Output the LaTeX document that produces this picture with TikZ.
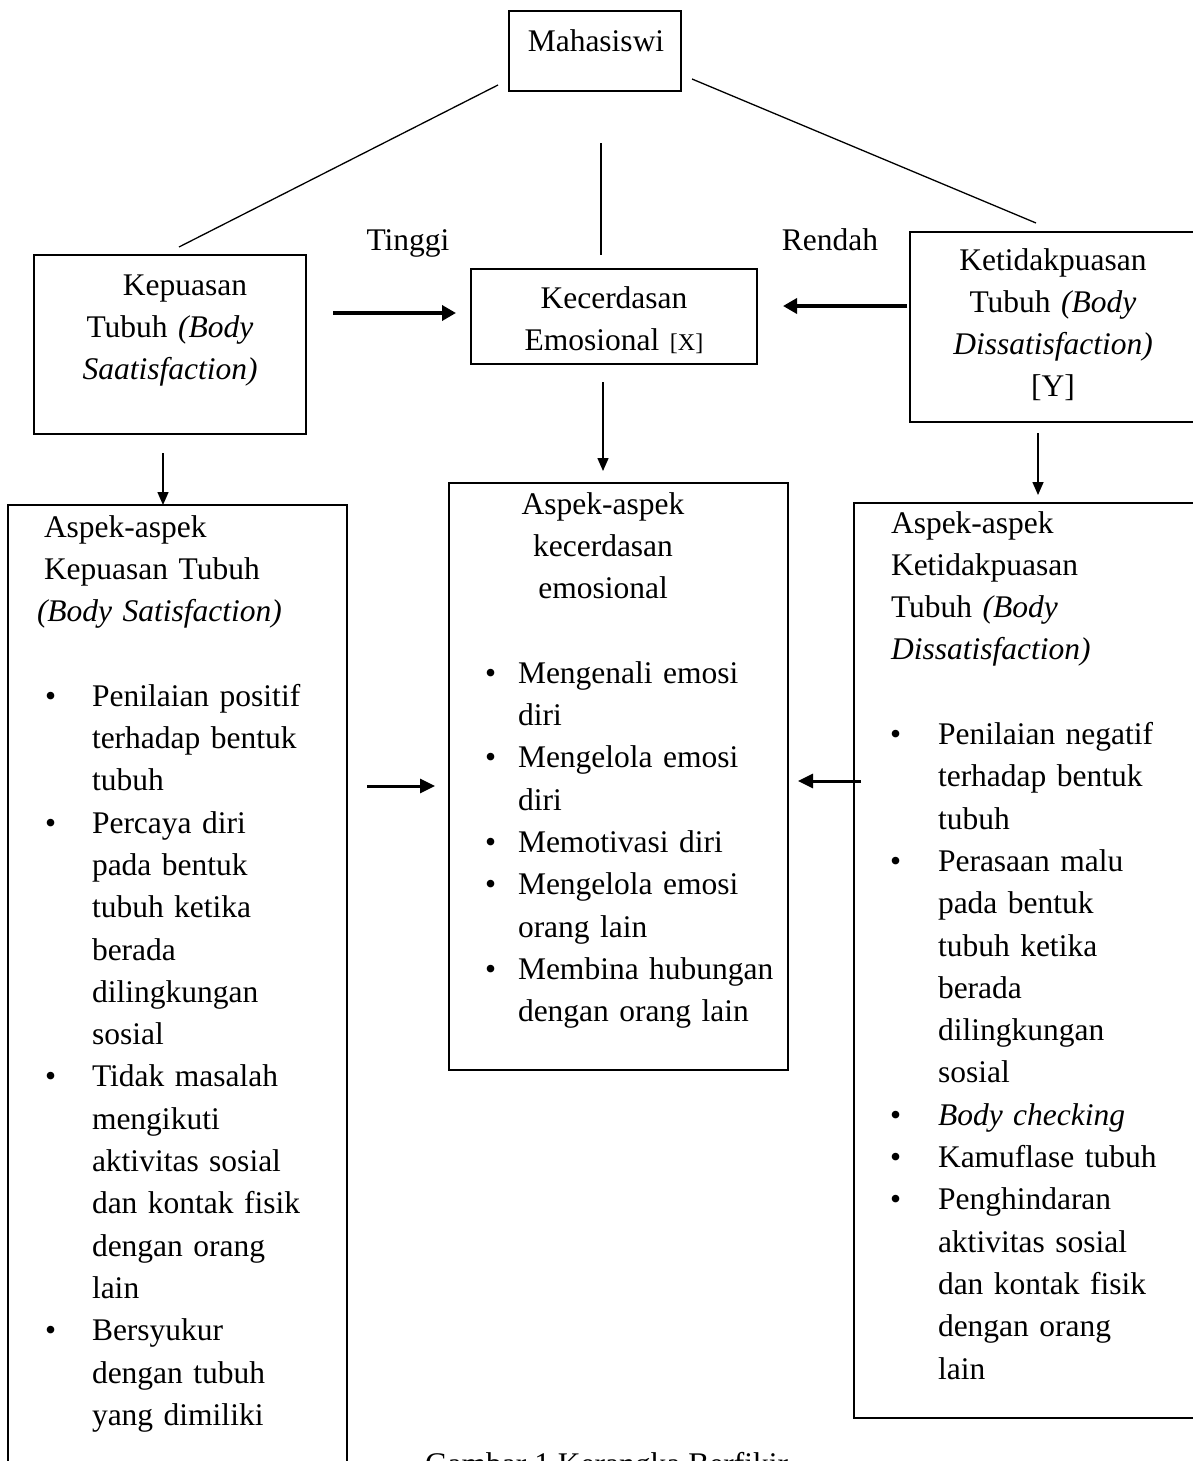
\documentclass[tikz,border=0pt]{standalone}
\usepackage{fontspec}
\setmainfont{Liberation Serif}
\usetikzlibrary{arrows.meta}
\begin{document}
\begin{tikzpicture}[x=1pt,y=-1pt,
  frame/.style={draw, line width=1.6pt, inner sep=0pt, outer sep=0pt},
  txt/.style={inner sep=0pt, outer sep=0pt, font=\fontsize{31.5}{42.3}\selectfont},
  blockL/.style={txt, text width=300pt, align=left, anchor=base west},
  blockC/.style={txt, text width=330pt, align=center, anchor=base},
  bul/.style={txt, anchor=base west},
  thinline/.style={line width=1.3pt},
  thinarrow/.style={line width=1.5pt, -{Triangle[length=13pt,width=11pt]}},
  thickarrow/.style={line width=4pt, -{Triangle[length=14pt,width=15pt]}},
  sidearrow/.style={line width=3pt, -{Triangle[length=15pt,width=14pt]}},
]
\useasboundingbox (0,0) rectangle (1192,1461);

% boxes
\node[frame, line width=1.3pt, minimum width=172pt, minimum height=80pt] (mhs) at (595,51) {};
\node[frame, minimum width=272pt, minimum height=179pt] (kep) at (170,344.5) {};
\node[frame, minimum width=286pt, minimum height=95pt] (kec) at (614,316.5) {};
\node[frame, minimum width=295pt, minimum height=190pt] (ket) at (1057.5,327) {};
\node[frame, minimum width=339pt, minimum height=985pt] (aL) at (177.5,997.5) {};
\node[frame, minimum width=339pt, minimum height=587pt] (aM) at (618.5,776.5) {};
\node[frame, minimum width=351pt, minimum height=915pt] (aR) at (1029.5,960.5) {};

% top texts
\node[txt, anchor=base] (tmhs) at (596,52) {Mahasiswi};
\node[blockC] (tkep) at (170,295) {\hspace*{30pt}Kepuasan\\Tubuh \textit{(Body}\\\textit{Saatisfaction)}};
\node[blockC] (tkec) at (614,308) {Kecerdasan\\Emosional {\fontsize{24}{42.3}\selectfont[X]}};
\node[blockC] (tket) at (1053,270) {Ketidakpuasan\\Tubuh \textit{(Body}\\\textit{Dissatisfaction)}\\{[Y]}};
\node[txt, anchor=base] (ting) at (408,250) {Tinggi};
\node[txt, anchor=base] (rend) at (830,250) {Rendah};

% left aspects
\node[blockL] (hL) at (44,537) {Aspek-aspek\\Kepuasan Tubuh};
\node[blockL] (hL2) at (37,621.6) {\textit{(Body Satisfaction)}};
\node[bul] (bL1) at (45,706.2) {•};
\node[blockL] (iL1) at (92,706.2) {Penilaian positif\\terhadap bentuk\\tubuh};
\node[bul] (bL2) at (45,833.1) {•};
\node[blockL] (iL2) at (92,833.1) {Percaya diri\\pada bentuk\\tubuh ketika\\berada\\dilingkungan\\sosial};
\node[bul] (bL3) at (45,1086.9) {•};
\node[blockL] (iL3) at (92,1086.9) {Tidak masalah\\mengikuti\\aktivitas sosial\\dan kontak fisik\\dengan orang\\lain};
\node[bul] (bL4) at (45,1340.7) {•};
\node[blockL] (iL4) at (92,1340.7) {Bersyukur\\dengan tubuh\\yang dimiliki};

% middle aspects
\node[blockC] (hM) at (603,514) {Aspek-aspek\\kecerdasan\\emosional};
\node[bul] (bM1) at (485,683.2) {•};
\node[blockL] (iM1) at (518,683.2) {Mengenali emosi\\diri};
\node[bul] (bM2) at (485,767.8) {•};
\node[blockL] (iM2) at (518,767.8) {Mengelola emosi\\diri};
\node[bul] (bM3) at (485,852.4) {•};
\node[blockL] (iM3) at (518,852.4) {Memotivasi diri};
\node[bul] (bM4) at (485,894.7) {•};
\node[blockL] (iM4) at (518,894.7) {Mengelola emosi\\orang lain};
\node[bul] (bM5) at (485,979.3) {•};
\node[blockL] (iM5) at (518,979.3) {Membina hubungan\\dengan orang lain};

% right aspects
\node[blockL] (hR) at (891,533) {Aspek-aspek\\Ketidakpuasan\\Tubuh \textit{(Body}\\\textit{Dissatisfaction)}};
\node[bul] (bR1) at (890,744.5) {•};
\node[blockL] (iR1) at (938,744.5) {Penilaian negatif\\terhadap bentuk\\tubuh};
\node[bul] (bR2) at (890,871.4) {•};
\node[blockL] (iR2) at (938,871.4) {Perasaan malu\\pada bentuk\\tubuh ketika\\berada\\dilingkungan\\sosial};
\node[bul] (bR3) at (890,1125.2) {•};
\node[blockL] (iR3) at (938,1125.2) {\textit{Body checking}};
\node[bul] (bR4) at (890,1167.5) {•};
\node[blockL] (iR4) at (938,1167.5) {Kamuflase tubuh};
\node[bul] (bR5) at (890,1209.8) {•};
\node[blockL] (iR5) at (938,1209.8) {Penghindaran\\aktivitas sosial\\dan kontak fisik\\dengan orang\\lain};

% caption (cut by the page edge, as in the reference)
\node[txt, anchor=base west] (cap) at (425,1474) {Gambar 1 Kerangka Berfikir};

% connector end points
\coordinate (l1a) at (498,85);   \coordinate (l1b) at (179,247);
\coordinate (l2a) at (601,143);  \coordinate (l2b) at (601,255);
\coordinate (l3a) at (692,79);   \coordinate (l3b) at (1036,223);
\coordinate (t1a) at (333,313);  \coordinate (t1b) at (456,313);
\coordinate (t2a) at (907,306);  \coordinate (t2b) at (783,306);
\coordinate (d1a) at (163,453);  \coordinate (d1b) at (163,505);
\coordinate (d2a) at (603,382);  \coordinate (d2b) at (603,471);
\coordinate (d3a) at (1038,433); \coordinate (d3b) at (1038,495);
\coordinate (s1a) at (367,786);  \coordinate (s1b) at (435,786);
\coordinate (s2a) at (861,781);  \coordinate (s2b) at (798,781);

\draw[thinline] (l1a) -- (l1b);
\draw[thinline] (l2a) -- (l2b);
\draw[thinline] (l3a) -- (l3b);
\draw[thickarrow] (t1a) -- (t1b);
\draw[thickarrow] (t2a) -- (t2b);
\draw[thinarrow] (d1a) -- (d1b);
\draw[thinarrow] (d2a) -- (d2b);
\draw[thinarrow] (d3a) -- (d3b);
\draw[sidearrow] (s1a) -- (s1b);
\draw[sidearrow] (s2a) -- (s2b);
\end{tikzpicture}
\end{document}
